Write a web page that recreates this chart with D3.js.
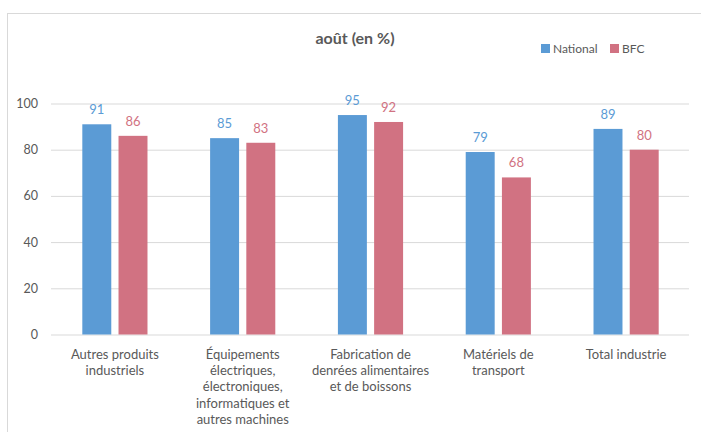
<!DOCTYPE html>
<html>
<head>
<meta charset="utf-8">
<script src="https://cdn.jsdelivr.net/npm/d3@7"></script>
<style>
  body { margin: 0; background: #fff; }
  text { font-family: Lato, "Open Sans", sans-serif; }
</style>
</head>
<body>
<div id="chart-area"></div>
<script>
// data
const categories = ["Autres produits industriels",
  "Équipements électriques, électroniques, informatiques et autres machines",
  "Fabrication de denrées alimentaires et de boissons",
  "Matériels de transport",
  "Total industrie"]
const labelLines = [
  ["Autres produits", "industriels"],
  ["Équipements", "électriques,", "électroniques,", "informatiques et", "autres machines"],
  ["Fabrication de", "denrées alimentaires", "et de boissons"],
  ["Matériels de", "transport"],
  ["Total industrie"]
]
const seriesNames = ["National", "BFC"]
const national = [91, 85, 95, 79, 89]
const bfc = [86, 83, 92, 68, 80]
const yTicks = [0, 20, 40, 60, 80, 100]

const COLORS = { National: "#5b9bd5", BFC: "#d17282" }
const TEXT = "#595959"

const W = 701, H = 432
const PLOT = { LEFT: 51, RIGHT: 690, TOP: 103.5, BOTTOM: 334.5 }

const svg = d3.select("#chart-area").append("svg")
  .attr("width", W)
  .attr("height", H)

// chart frame
svg.append("rect")
  .attr("x", 7.5).attr("y", 13.5)
  .attr("width", 720).attr("height", 440)
  .attr("fill", "none")
  .attr("stroke", "#d9d9d9")

const x0 = d3.scaleBand()
  .domain(categories)
  .range([PLOT.LEFT, PLOT.RIGHT])
  .paddingInner(0.49)
  .paddingOuter(0.245)

const x1 = d3.scaleBand()
  .domain(seriesNames)
  .range([0, x0.bandwidth()])
  .paddingInner(0.2)

const y = d3.scaleLinear()
  .domain([0, 100])
  .range([PLOT.BOTTOM, PLOT.TOP])

// gridlines
const yGrid = d3.axisLeft(y).tickValues(yTicks).tickSize(-(PLOT.RIGHT - PLOT.LEFT - 1)).tickFormat("")
const gridG = svg.append("g")
  .attr("transform", `translate(${PLOT.LEFT}, 0)`)
  .call(yGrid)
gridG.select(".domain").remove()
gridG.selectAll("line").attr("stroke", "#d9d9d9").attr("stroke-width", 1)

// y axis labels
const yAxis = d3.axisLeft(y).tickValues(yTicks).tickSize(0).tickPadding(0)
const yG = svg.append("g")
  .attr("transform", `translate(38, 0)`)
  .call(yAxis)
yG.select(".domain").remove()
yG.selectAll("text")
  .attr("fill", TEXT)
  .style("font-size", "12.5px")
  .style("font-family", "Lato, 'Open Sans', sans-serif")

const rows = categories.map((c, i) => ({ cat: c, lines: labelLines[i], values: [
  { key: "National", value: national[i] },
  { key: "BFC", value: bfc[i] }
] }))

const groups = svg.selectAll("g.grp")
  .data(rows)
  .enter().append("g")
  .attr("class", "grp")
  .attr("transform", d => `translate(${x0(d.cat)}, 0)`)

groups.selectAll("rect")
  .data(d => d.values)
  .enter().append("rect")
  .attr("x", d => x1(d.key))
  .attr("y", d => y(d.value))
  .attr("width", x1.bandwidth())
  .attr("height", d => y(0) - y(d.value))
  .attr("fill", d => COLORS[d.key])

groups.selectAll("text.val")
  .data(d => d.values)
  .enter().append("text")
  .attr("class", "val")
  .attr("x", d => x1(d.key) + x1.bandwidth() / 2)
  .attr("y", d => y(d.value) - 10)
  .attr("text-anchor", "middle")
  .attr("fill", d => COLORS[d.key])
  .style("font-size", "13px")
  .text(d => d.value)

// category labels
groups.append("text")
  .attr("text-anchor", "middle")
  .attr("fill", TEXT)
  .style("font-size", "13px")
  .each(function (d) {
    const t = d3.select(this)
    d.lines.forEach((ln, k) => {
      t.append("tspan")
        .attr("x", x0.bandwidth() / 2)
        .attr("y", 359 + k * 16.2)
        .text(ln)
    })
  })

// title
svg.append("text")
  .attr("x", 355)
  .attr("y", 44)
  .attr("text-anchor", "middle")
  .attr("fill", TEXT)
  .style("font-size", "16px")
  .style("font-weight", "bold")
  .text("août (en %)")

// legend
const legend = svg.append("g")
const legX = [541, 610]
seriesNames.forEach((s, i) => {
  legend.append("rect")
    .attr("x", legX[i]).attr("y", 44)
    .attr("width", 9).attr("height", 9)
    .attr("fill", COLORS[s])
  legend.append("text")
    .attr("x", legX[i] + 12)
    .attr("y", 52.5)
    .attr("fill", TEXT)
    .style("font-size", "12px")
    .text(s)
})
</script>
</body>
</html>
